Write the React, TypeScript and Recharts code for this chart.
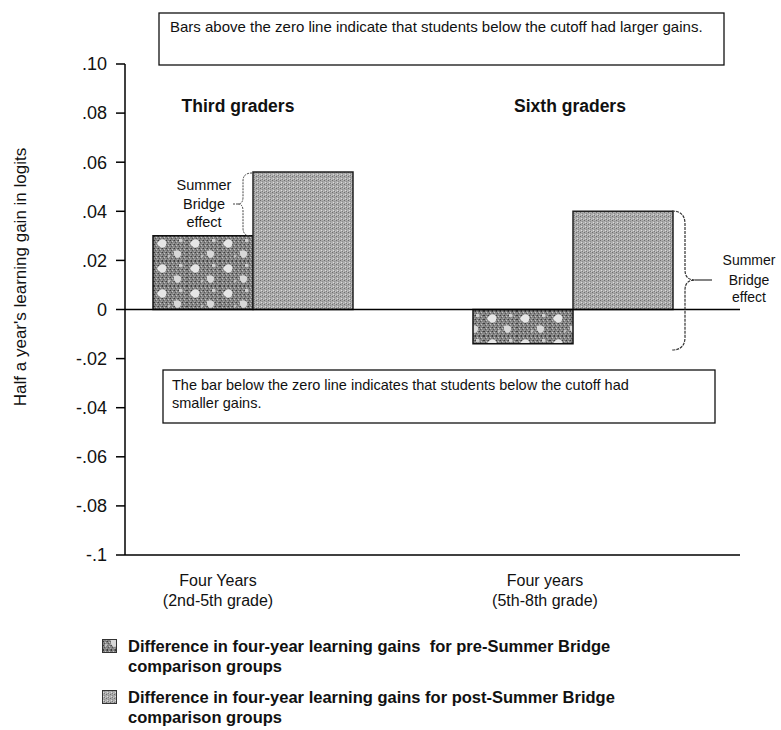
import React from 'react';
import { BarChart, Bar, XAxis, YAxis, ReferenceLine } from 'recharts';

const groups = ['Third graders', 'Sixth graders'];
const preValues = [0.03, -0.014];
const postValues = [0.056, 0.04];
const xTickLines = [
  ['Four Years', '(2nd-5th grade)'],
  ['Four years', '(5th-8th grade)'],
];
const xTickShift = [-35, -28];
const yTicks = [0.1, 0.08, 0.06, 0.04, 0.02, 0, -0.02, -0.04, -0.06, -0.08, -0.1];
const yTickLabels = ['.10', '.08', '.06', '.04', '.02', '0', '-.02', '-.04', '-.06', '-.08', '-.1'];
const legendLabels = [
  ['Difference in four-year learning gains  for pre-Summer Bridge', 'comparison groups'],
  ['Difference in four-year learning gains for post-Summer Bridge', 'comparison groups'],
];

const data = groups.map((g, i) => ({ group: g, pre: preValues[i], post: postValues[i] }));

const FONT = '"Liberation Sans", Arial, sans-serif';

function XTick(props: any) {
  const { x, y, payload, index } = props;
  const lines = xTickLines[index] || [payload.value];
  return (
    <g transform={`translate(${x + (xTickShift[index] || 0)},${y})`}>
      {lines.map((l: string, i: number) => (
        <text key={i} x={0} y={23 + i * 20} textAnchor="middle" fontSize={16} fill="#111" fontFamily={FONT}>
          {l}
        </text>
      ))}
    </g>
  );
}

function Swatch({ fill }: { fill: string }) {
  return (
    <svg width={15} height={14} style={{ display: 'block' }}>
      <rect x={0.5} y={0.5} width={14} height={13} fill={fill} stroke="#333" />
    </svg>
  );
}

export default function App() {
  return (
    <div style={{ position: 'absolute', left: 0, top: 0, width: 781, height: 730, background: '#fff', fontFamily: FONT }}>
      <BarChart
        width={781}
        height={730}
        data={data}
        margin={{ top: 64, right: 41, bottom: 115, left: 65 }}
        barGap={0}
        barSize={100}
      >
        <defs>
          <pattern id="dotsDark" width={4} height={4} patternUnits="userSpaceOnUse">
            <rect width={4} height={4} fill="#858585" />
            <rect x={0} y={0} width={1} height={1} fill="#3c3c3c" />
            <rect x={2} y={1} width={1} height={1} fill="#c4c4c4" />
            <rect x={1} y={2} width={1} height={1} fill="#555" />
            <rect x={3} y={3} width={1} height={1} fill="#a8a8a8" />
            <rect x={3} y={0} width={1} height={1} fill="#666" />
          </pattern>
          <pattern id="preFill" width={33} height={25} patternUnits="userSpaceOnUse" x={154} y={236}>
            <rect width={33} height={25} fill="url(#dotsDark)" />
            <path d="M4 6 Q7 2 11 4 Q14 7 11 11 Q7 13 5 10 Q2 8 4 6 Z" fill="#e6e6e6" />
            <path d="M20 15 Q24 13 27 16 Q28 20 24 22 Q20 21 20 18 Z" fill="#d8d8d8" />
            <path d="M25 3 Q28 2 29 5 Q27 7 25 6 Z" fill="#cfcfcf" />
            <path d="M14 19 Q16 18 17 20 Q15 22 14 21 Z" fill="#bdbdbd" />
          </pattern>
          <pattern id="postFill" width={4} height={4} patternUnits="userSpaceOnUse">
            <rect width={4} height={4} fill="#ababab" />
            <rect x={0} y={0} width={1} height={1} fill="#6e6e6e" />
            <rect x={1} y={2} width={1} height={1} fill="#dcdcdc" />
            <rect x={2} y={1} width={1} height={1} fill="#8c8c8c" />
            <rect x={3} y={3} width={1} height={1} fill="#c8c8c8" />
            <rect x={2} y={3} width={1} height={1} fill="#7a7a7a" />
          </pattern>
        </defs>
        <XAxis
          dataKey="group"
          padding={{ left: -32, right: 7 }}
          axisLine={{ stroke: '#000', strokeWidth: 1.5 }}
          tickLine={false}
          tick={<XTick />}
          interval={0}
          height={60}
        />
        <YAxis
          type="number"
          domain={[-0.1, 0.1]}
          ticks={yTicks}
          interval={0}
          width={60}
          tickFormatter={(v: number) => {
            const i = yTicks.findIndex((t) => Math.abs(t - v) < 1e-9);
            return i >= 0 ? yTickLabels[i] : String(v);
          }}
          axisLine={{ stroke: '#000', strokeWidth: 1.5 }}
          tickLine={{ stroke: '#000', strokeWidth: 1.5 }}
          tickSize={9}
          tickMargin={9}
          tick={{ fontSize: 18, fill: '#111', fontFamily: FONT }}
        />
        <ReferenceLine y={0} stroke="#000" strokeWidth={1.5} />
        <Bar dataKey="pre" fill="url(#preFill)" stroke="#111" strokeWidth={1.5} isAnimationActive={false} />
        <Bar dataKey="post" fill="url(#postFill)" stroke="#222" strokeWidth={1.5} isAnimationActive={false} />
      </BarChart>

      <svg width={781} height={730} style={{ position: 'absolute', left: 0, top: 0, pointerEvents: 'none' }} fontFamily={FONT}>
        <text transform="translate(26,277) rotate(-90)" textAnchor="middle" fontSize={17} fill="#111">
          Half a year's learning gain in logits
        </text>

        <rect x={159} y={13} width={565} height={52} fill="#fff" stroke="#111" strokeWidth={1.3} />
        <text x={170} y={32} fontSize={15} fill="#111">
          Bars above the zero line indicate that students below the cutoff had larger gains.
        </text>

        <rect x={163} y={370} width={552} height={53} fill="#fff" stroke="#111" strokeWidth={1.3} />
        <text x={172} y={390} fontSize={14.5} fill="#111">
          The bar below the zero line indicates that students below the cutoff had
        </text>
        <text x={172} y={408} fontSize={14.5} fill="#111">
          smaller gains.
        </text>

        <text x={238} y={112} textAnchor="middle" fontSize={17.5} fontWeight="bold" fill="#111">
          Third graders
        </text>
        <text x={570} y={112} textAnchor="middle" fontSize={17.5} fontWeight="bold" fill="#111">
          Sixth graders
        </text>

        <g fontSize={14.5} fill="#111" textAnchor="middle">
          <text x={204} y={190}>Summer</text>
          <text x={204} y={209}>Bridge</text>
          <text x={204} y={227}>effect</text>
        </g>
        <path
          d="M 252 173 Q 243 173 243 181 L 243 197 Q 243 204 238 204 Q 243 204 243 211 L 243 228 Q 243 236 251 236"
          fill="none"
          stroke="#444"
          strokeWidth={1}
          strokeDasharray="2 1"
        />
        <line x1={233} y1={204} x2={238} y2={204} stroke="#444" strokeDasharray="2 1" />

        <path
          d="M 672 211 Q 685 211 685 224 L 685 270 Q 685 280 695 280 Q 685 280 685 290 L 685 337 Q 685 350 672 350"
          fill="none"
          stroke="#333"
          strokeWidth={1.2}
          strokeDasharray="3 1"
        />
        <line x1={695} y1={280} x2={712} y2={280} stroke="#333" strokeWidth={1.2} />
        <g fontSize={14} fill="#111" textAnchor="middle">
          <text x={749} y={265}>Summer</text>
          <text x={749} y={285}>Bridge</text>
          <text x={749} y={302}>effect</text>
        </g>
      </svg>

      {legendLabels.map((lines, i) => (
        <div
          key={i}
          style={{
            position: 'absolute',
            left: 102,
            top: 636 + i * 51,
            display: 'flex',
            alignItems: 'flex-start',
            fontSize: 16.5,
            fontWeight: 'bold',
            color: '#111',
            lineHeight: '20px',
          }}
        >
          <div style={{ marginTop: 3, marginRight: 11 }}>
            <Swatch fill={i === 0 ? 'url(#preFill)' : 'url(#postFill)'} />
          </div>
          <div style={{ whiteSpace: 'pre' }}>
            {lines[0]}
            <br />
            {lines[1]}
          </div>
        </div>
      ))}
    </div>
  );
}
